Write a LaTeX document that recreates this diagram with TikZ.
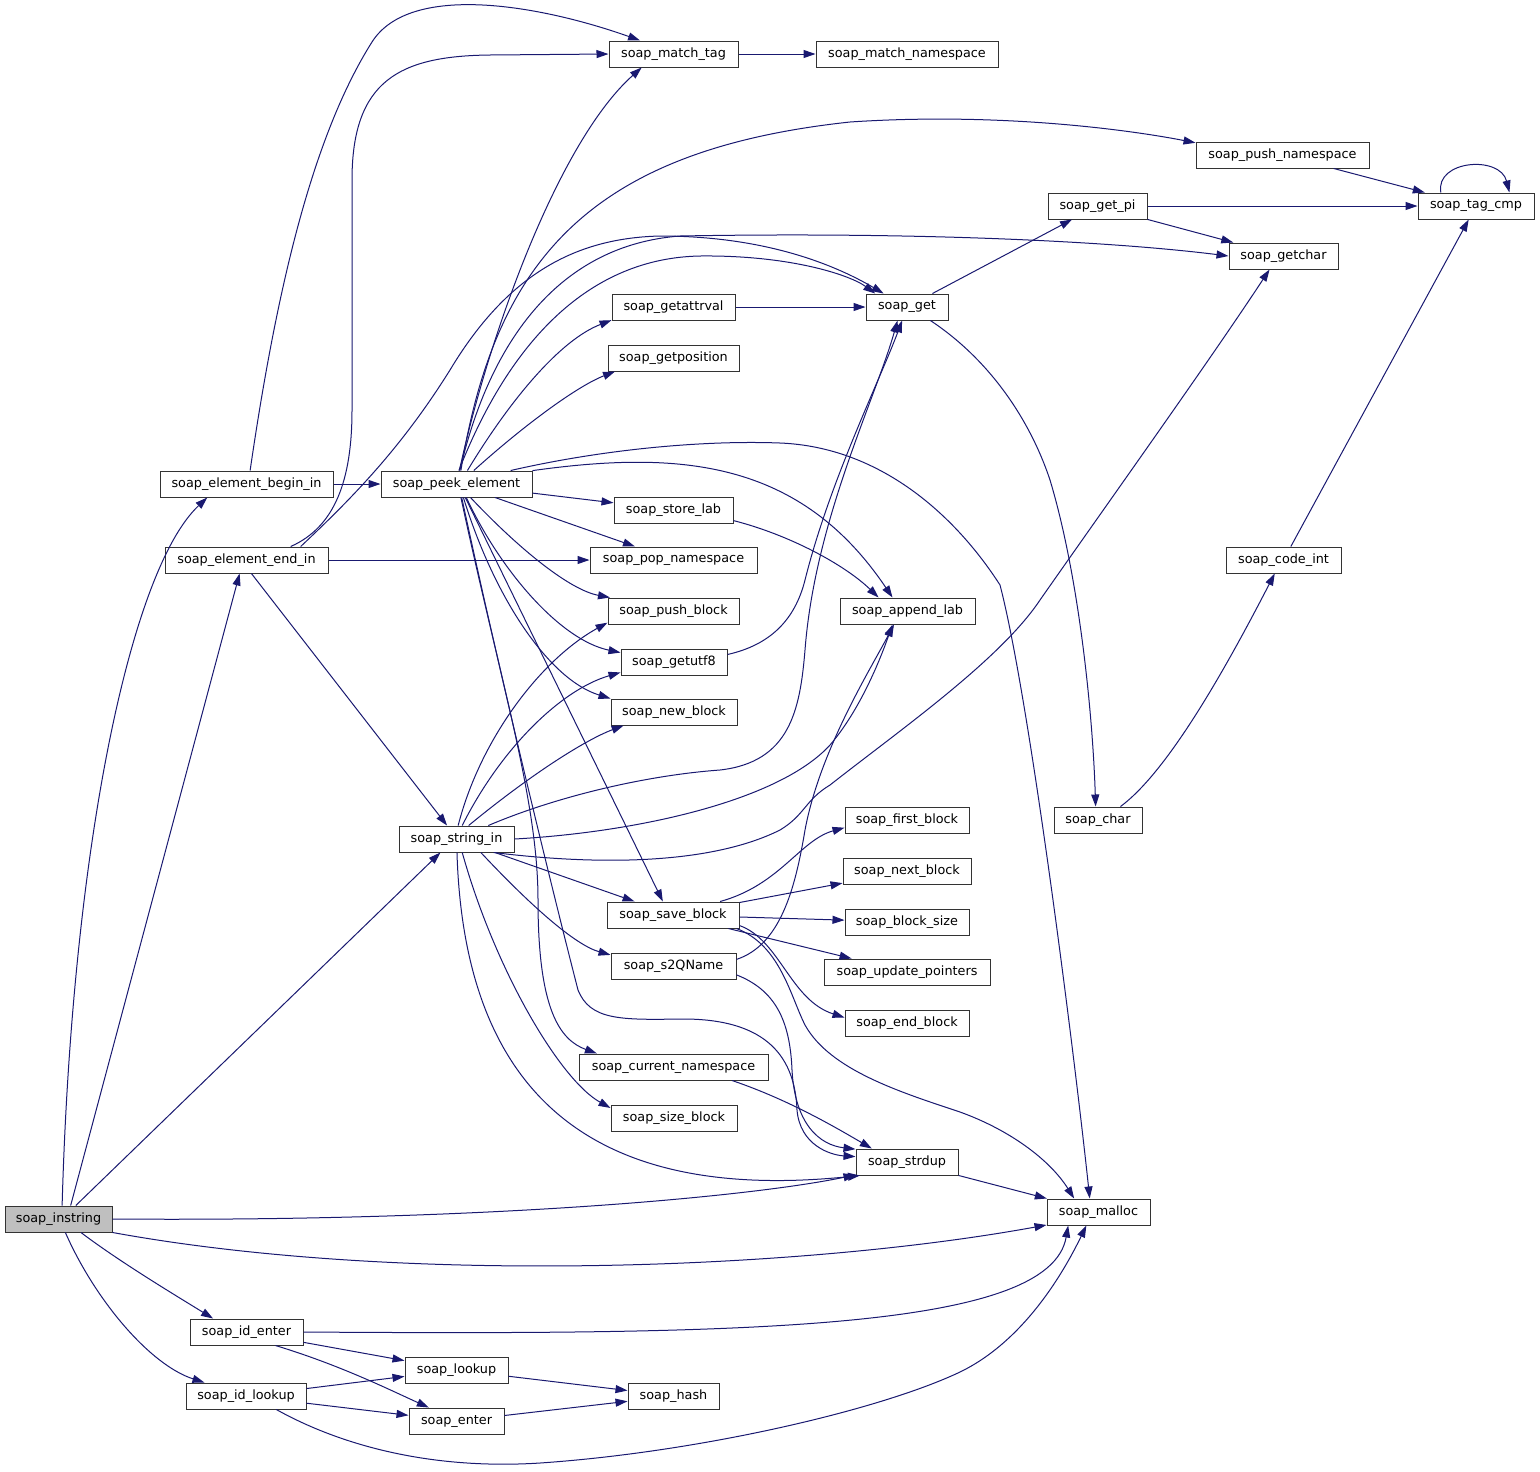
\documentclass[tikz,border=0pt]{standalone}
\usepackage{fontspec}
\setmainfont{DejaVu Sans}
\usetikzlibrary{arrows.meta}
\definecolor{edgec}{HTML}{191970}
\definecolor{hlc}{HTML}{BFBFBF}
\tikzset{
  box/.style={draw=black!80, line width=0.75pt, fill=white, inner sep=0pt,
    minimum height=19.5pt, font=\fontsize{9.6pt}{11pt}\selectfont},
  e/.style={draw=edgec, line width=0.75pt, -{Triangle[length=9pt,width=6pt]}},
}
\newcommand\bx[6][]{\node[box,minimum width={#5*0.75pt},#1] (#2) at (#3,#4) {#6};}
\begin{document}
\begin{tikzpicture}[x=0.75pt,y=-0.75pt]
\useasboundingbox (0,0) rectangle (1540,1471);
% nodes
\bx[fill=hlc]{instring}{58.5}{1219}{107}{soap\_instring}
\bx{beginin}{246.5}{484}{173}{soap\_element\_begin\_in}
\bx{endin}{246.5}{560}{163}{soap\_element\_end\_in}
\bx{peek}{456.5}{484}{151}{soap\_peek\_element}
\bx{stringin}{456.5}{839}{115}{soap\_string\_in}
\bx{matchtag}{673.5}{54}{129}{soap\_match\_tag}
\bx{matchns}{907}{54}{182}{soap\_match\_namespace}
\bx{pushns}{1282.5}{155}{173}{soap\_push\_namespace}
\bx{getpi}{1097.5}{206}{99}{soap\_get\_pi}
\bx{tagcmp}{1476}{206}{116}{soap\_tag\_cmp}
\bx{getchar}{1283.5}{256}{109}{soap\_getchar}
\bx{getattrval}{673.5}{307}{123}{soap\_getattrval}
\bx{get}{907}{307}{82}{soap\_get}
\bx{getposition}{673.5}{358}{131}{soap\_getposition}
\bx{storelab}{673.5}{510}{119}{soap\_store\_lab}
\bx{popns}{673.5}{560}{167}{soap\_pop\_namespace}
\bx{appendlab}{907.5}{611}{135}{soap\_append\_lab}
\bx{pushblock}{673.5}{611}{131}{soap\_push\_block}
\bx{getutf}{674}{662}{106}{soap\_getutf8}
\bx{newblock}{674}{712}{126}{soap\_new\_block}
\bx{codeint}{1283.5}{560}{115}{soap\_code\_int}
\bx{char}{1098}{820}{88}{soap\_char}
\bx{firstblock}{907}{820}{124}{soap\_first\_block}
\bx{nextblock}{907}{871}{128}{soap\_next\_block}
\bx{saveblock}{673}{915}{132}{soap\_save\_block}
\bx{blocksize}{907}{922}{124}{soap\_block\_size}
\bx{sqname}{673.5}{966}{125}{soap\_s2QName}
\bx{updptr}{907}{972}{166}{soap\_update\_pointers}
\bx{endblock}{907}{1023}{124}{soap\_end\_block}
\bx{curns}{673.5}{1067}{189}{soap\_current\_namespace}
\bx{sizeblock}{674}{1118}{126}{soap\_size\_block}
\bx{strdup}{907}{1162}{102}{soap\_strdup}
\bx{malloc}{1098.5}{1212}{103}{soap\_malloc}
\bx{identer}{246.5}{1332}{113}{soap\_id\_enter}
\bx{lookup}{456.5}{1370}{103}{soap\_lookup}
\bx{hash}{673.5}{1396}{91}{soap\_hash}
\bx{idlookup}{246}{1396}{120}{soap\_id\_lookup}
\bx{enter}{456.5}{1421}{95}{soap\_enter}
% edges from soap_instring
\draw[e] (instring.75) .. controls (72,850) and (130,570) .. (beginin.199);
\draw[e] (instring.48) -- (endin.243);
\draw[e] (instring.38) -- (stringin.220);
\draw[e] (instring.east) .. controls (500,1222) and (760,1195) .. (strdup.194);
\draw[e] (instring.346) .. controls (400,1285) and (800,1270) .. (malloc.194);
\draw[e] (instring.329) .. controls (120,1262) and (175,1295) .. (identer.158);
\draw[e] (instring.297) .. controls (95,1300) and (150,1365) .. (idlookup.162);
% soap_element_begin_in
\draw[e] (beginin.75) .. controls (275,300) and (310,140) .. (372,42) .. controls (410,-18) and (540,5) .. (matchtag.158);
\draw[e] (beginin) -- (peek);
% soap_element_end_in
\draw[e] (endin.17) .. controls (335,527) and (352,480) .. (352,410) -- (352,180) .. controls (352,80) and (400,56) .. (490,55) -- (matchtag.west);
\draw[e] (endin.14) .. controls (350,500) and (400,450) .. (450,370) .. controls (510,270) and (580,238) .. (660,236) .. controls (760,236) and (830,262) .. (get.150);
\draw[e] (endin) -- (popns);
\draw[e] (endin.290) -- (stringin.125);
% soap_peek_element
\draw[e] (peek.78) .. controls (490,330) and (560,140) .. (matchtag.203);
\draw[e] (peek.72) .. controls (495,260) and (590,150) .. (850,122) .. controls (1000,112) and (1130,130) .. (pushns.172);
\draw[e] (peek.76) .. controls (490,340) and (560,245) .. (680,236) .. controls (900,232) and (1100,240) .. (getchar.west);
\draw[e] (peek.80) .. controls (510,340) and (590,258) .. (700,256) .. controls (790,255) and (850,275) .. (get.157);
\draw[e] (peek.51) .. controls (510,400) and (560,340) .. (getattrval.192);
\draw[e] (peek.38) .. controls (530,420) and (580,385) .. (getposition.193);
\draw[e] (peek.14) .. controls (600,450) and (700,440) .. (780,443) .. controls (880,447) and (955,515) .. (1000,585) .. controls (1030,700) and (1075,1060) .. (malloc.123);
\draw[e] (peek.10) .. controls (680,450) and (800,460) .. (appendlab.138);
\draw[e] (peek) -- (storelab);
\draw[e] (peek) -- (popns);
\draw[e] (peek.316) .. controls (520,550) and (570,590) .. (pushblock.168);
\draw[e] (peek.306) .. controls (500,570) and (560,640) .. (getutf.170);
\draw[e] (peek.297) .. controls (495,600) and (550,680) .. (newblock.168);
\draw[e] (peek.303) -- (saveblock.127);
\draw[e] (peek.288) .. controls (500,680) and (538,800) .. (538,900) .. controls (538,1010) and (560,1040) .. (curns.170);
\draw[e] (peek.291) .. controls (510,720) and (560,920) .. (578,990) .. controls (590,1020) and (620,1020) .. (680,1019) .. controls (770,1018) and (795,1060) .. (797,1110) .. controls (800,1145) and (830,1155) .. (strdup.174);
% soap_string_in
\draw[e] (stringin.23) .. controls (560,795) and (650,775) .. (720,770) .. controls (790,762) and (800,710) .. (805,650) .. controls (815,520) and (875,400) .. (get.235);
\draw[e] (stringin.340) .. controls (620,868) and (720,860) .. (780,830) .. controls (805,815) and (805,800) .. (830,785) .. controls (900,730) and (1000,660) .. (1040,600) .. controls (1110,500) and (1210,360) .. (getchar.224);
\draw[e] (stringin.east) .. controls (640,832) and (780,800) .. (830,745) .. controls (860,710) and (880,660) .. (appendlab.222);
\draw[e] (stringin.83) .. controls (480,740) and (540,660) .. (pushblock.190);
\draw[e] (stringin.67) .. controls (500,750) and (560,690) .. (getutf.191);
\draw[e] (stringin.48) .. controls (530,775) and (585,740) .. (newblock.195);
\draw[e] (stringin) -- (saveblock);
\draw[e] (stringin.331) .. controls (530,905) and (575,945) .. (sqname.170);
\draw[e] (stringin.293) .. controls (495,970) and (560,1080) .. (sizeblock.171);
\draw[e] (stringin.272) .. controls (465,1120) and (620,1200) .. (strdup.196);
% others
\draw[e] (getutf.8) .. controls (770,645) and (795,620) .. (805,580) .. controls (830,480) and (880,380) .. (get.250);
\draw[e] (getattrval) -- (get);
\draw[e] (get) -- (getpi);
\draw[e] (get.330) .. controls (990,360) and (1030,420) .. (1050,480) .. controls (1080,580) and (1093,720) .. (char.100);
\draw[e] (getpi) -- (tagcmp);
\draw[e] (getpi) -- (getchar);
\draw[e] (pushns) -- (tagcmp);
\draw[e] (tagcmp.159) .. controls (1435,160) and (1500,155) .. (tagcmp.22);
\draw[e] (codeint) -- (tagcmp);
\draw[e] (char.31) .. controls (1170,770) and (1230,660) .. (codeint.237);
\draw[e] (matchtag) -- (matchns);
\draw[e] (storelab.350) .. controls (790,535) and (845,565) .. (appendlab.155);
\draw[e] (sqname.6) .. controls (780,945) and (795,890) .. (805,830) .. controls (820,750) and (870,670) .. (appendlab.225);
\draw[e] (sqname.352) .. controls (775,990) and (790,1020) .. (792,1070) .. controls (795,1125) and (820,1145) .. (strdup.166);
\draw[e] (saveblock.16) .. controls (780,885) and (800,840) .. (firstblock.187);
\draw[e] (saveblock) -- (nextblock);
\draw[e] (saveblock) -- (blocksize);
\draw[e] (saveblock) -- (updptr);
\draw[e] (saveblock.351) .. controls (780,940) and (790,1000) .. (endblock.175);
\draw[e] (saveblock.348) .. controls (780,945) and (790,995) .. (805,1025) .. controls (830,1070) and (900,1092) .. (960,1112) .. controls (1010,1130) and (1050,1160) .. (malloc.151);
\draw[e] (curns.347) .. controls (790,1100) and (840,1130) .. (strdup.159);
\draw[e] (strdup) -- (malloc);
\draw[e] (identer.east) .. controls (750,1335) and (1050,1330) .. (malloc.204);
\draw[e] (identer) -- (lookup);
\draw[e] (identer.335) .. controls (340,1365) and (390,1390) .. (enter.154);
\draw[e] (idlookup) -- (lookup);
\draw[e] (idlookup) -- (enter);
\draw[e] (idlookup.336) .. controls (340,1445) and (430,1470) .. (540,1463) .. controls (700,1452) and (880,1410) .. (960,1372) .. controls (1020,1343) and (1060,1280) .. (malloc.228);
\draw[e] (lookup) -- (hash);
\draw[e] (enter) -- (hash);
\end{tikzpicture}
\end{document}
